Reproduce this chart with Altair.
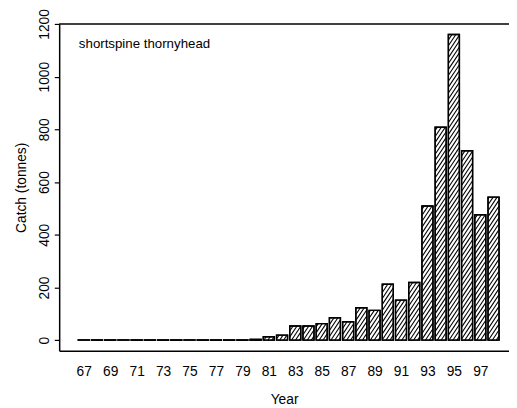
import altair as alt
import pandas as pd
import numpy as np

# ---- data ----
years = list(range(67, 99))
catch = [1, 1, 1, 1, 1, 1, 1, 1, 1, 1, 1, 1, 1, 3,
         13, 19, 54, 54, 63, 85, 70, 123, 113, 212, 152, 219,
         509, 808, 1160, 719, 476, 543]
tick_years = list(range(67, 98, 2))
y_ticks = [0, 200, 400, 600, 800, 1000, 1200]
label_text = ["shortspine thornyhead"]

# ---- layout ----
W, H = 457, 332
XMIN, XMAX = 65.14, 99.17
YMIN, YMAX = -40, 1200
HALF = 0.417          # half bar width in years
FONT = "Liberation Sans"
FS = 14

bars = pd.DataFrame({"year": years, "catch": catch})
labels = pd.DataFrame({"text": label_text})

# hatch segments derived from the bar values (diagonal shading lines)
sx = W / (XMAX - XMIN)
sy = H / (YMAX - YMIN)
slope, gap = 1.5, 6.0
rows = []
for yr, v in zip(years, catch):
    xl = (yr - HALF - XMIN) * sx
    xr = (yr + HALF - XMIN) * sx
    h = v * sy
    if h < 2:
        continue
    kmin = int(np.floor((0 - slope * xr) / gap))
    kmax = int(np.ceil((h - slope * xl) / gap))
    for k in range(kmin, kmax + 1):
        c = k * gap
        xs = max(xl, (0 - c) / slope)
        xe = min(xr, (h - c) / slope)
        if xe - xs > 0.3:
            rows.append(dict(x=xs / sx + XMIN, x2=xe / sx + XMIN,
                             y=(slope * xs + c) / sy, y2=(slope * xe + c) / sy))
hatch = pd.DataFrame(rows)

xscale = alt.Scale(domain=[XMIN, XMAX], nice=False, zero=False)
yscale = alt.Scale(domain=[YMIN, YMAX], nice=False, zero=False)

xaxis = alt.Axis(values=tick_years, title="Year", ticks=False, grid=False,
                 format="d", labelOverlap=False,
                 domainColor="black", domainWidth=1.5, labelFontSize=FS,
                 labelFont=FONT, labelColor="black", labelPadding=14,
                 titleFont=FONT, titleFontSize=FS, titleFontWeight="normal",
                 titleColor="black", titlePadding=15, labelFlush=False)
yaxis = alt.Axis(values=y_ticks, title="Catch (tonnes)", grid=False,
                 format="d", labelOverlap=False,
                 domainColor="black", domainWidth=1.5, tickColor="black",
                 tickWidth=1.2, tickSize=5, labelAngle=-90, labelAlign="center",
                 labelBaseline="bottom", labelPadding=3, labelFontSize=FS,
                 labelFont=FONT, labelColor="black", labelFlush=False,
                 titleFont=FONT, titleFontSize=FS, titleFontWeight="normal",
                 titleColor="black", titlePadding=9)

base = alt.Chart(bars).transform_calculate(
    x0=f"datum.year - {HALF}", x1=f"datum.year + {HALF}", zero="0")

fill = base.mark_rect(fill="white", stroke="black", strokeWidth=1.4).encode(
    x=alt.X("x0:Q", scale=xscale, axis=xaxis),
    x2="x1:Q",
    y=alt.Y("catch:Q", scale=yscale, axis=yaxis),
    y2="zero:Q",
)

lines = alt.Chart(hatch).mark_rule(color="black", strokeWidth=1.1).encode(
    x=alt.X("x:Q", scale=xscale, axis=xaxis),
    x2="x2:Q",
    y=alt.Y("y:Q", scale=yscale, axis=yaxis),
    y2="y2:Q",
)

outline = base.mark_rect(fillOpacity=0, stroke="black",
                         strokeWidth=1.4).encode(
    x=alt.X("x0:Q", scale=xscale, axis=xaxis),
    x2="x1:Q",
    y=alt.Y("catch:Q", scale=yscale, axis=yaxis),
    y2="zero:Q",
)

top_border = alt.Chart(labels).mark_rule(color="black", strokeWidth=1.5).encode(
    x=alt.value(0), x2=alt.value(W), y=alt.value(0))

label = alt.Chart(labels).mark_text(
    align="left", baseline="middle", fontSize=13.5,
    font=FONT, color="black").encode(
    text="text:N", x=alt.value(20), y=alt.value(20))

chart = alt.layer(fill, lines, outline, top_border, label).properties(
    width=W, height=H,
    autosize=alt.AutoSizeParams(type="none"),
    padding={"left": 52, "top": 13, "right": 0, "bottom": 55},
).configure_view(stroke=None).configure_axis(labelOverlap=False)

chart.save("out.html", embed_options={"renderer": "svg", "actions": False})
